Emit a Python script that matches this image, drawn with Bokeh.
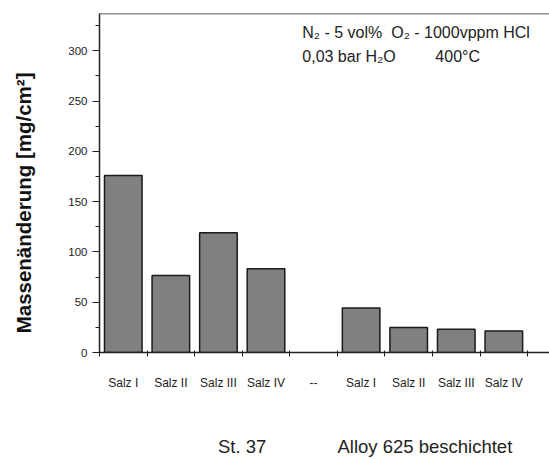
from bokeh.plotting import figure
from bokeh.models import Range1d, FixedTicker, LinearAxis, Span, Label
from bokeh.embed import file_html
from bokeh.resources import INLINE

# ---- data ----
categories = ["Salz I", "Salz II", "Salz III", "Salz IV", "--",
              "Salz I", "Salz II", "Salz III", "Salz IV", "--"]
values = [176, 76.5, 119, 83.3, None, 44.2, 24.8, 23.1, 21.4, None]
group_labels = ["St. 37", "Alloy 625 beschichtet"]
y_ticks = [0, 50, 100, 150, 200, 250, 300]
y_minor = [25, 75, 125, 175, 225, 275, 325]
y_title = "Massenänderung [mg/cm²]"

FONT = "Liberation Sans"
INK = "#222222"

idx = list(range(len(categories)))
bx = [i for i, v in zip(idx, values) if v is not None]
by = [v for v in values if v is not None]

p = figure(width=549, height=459, output_backend="svg", toolbar_location=None,
           x_range=Range1d(-0.5, 8.96), y_range=Range1d(0, 337),
           min_border_left=99, min_border_right=0, min_border_top=13,
           min_border_bottom=107, x_axis_type=None)
p.background_fill_color = "white"
p.border_fill_color = "white"
p.outline_line_color = None
p.grid.visible = False

p.vbar(x=bx, top=by, width=0.79, fill_color="#808080",
       line_color="#1a1a1a", line_width=1.5)

# y axis
ya = p.yaxis[0]
ya.ticker = FixedTicker(ticks=y_ticks, minor_ticks=y_minor)
ya.axis_line_width = 1.5
ya.axis_line_color = INK
ya.major_tick_line_color = INK
ya.minor_tick_line_color = INK
ya.major_tick_out = 7
ya.major_tick_in = 0
ya.minor_tick_out = 4
ya.minor_tick_in = 0
ya.major_label_text_font = FONT
ya.major_label_text_font_size = "11.5px"
ya.major_label_text_color = INK
ya.major_label_standoff = 5
# trailing no-break spaces shift the visible title downwards, as in the reference
ya.axis_label = y_title + "\u00a0" * 7
ya.axis_label_text_font = FONT
ya.axis_label_text_font_style = "bold"
ya.axis_label_text_font_size = "20.5px"
ya.axis_label_text_color = "#111111"
ya.axis_label_standoff = 30

# x axis: category labels at centres, ticks at boundaries
xa = LinearAxis(ticker=FixedTicker(ticks=idx, minor_ticks=[i - 0.5 for i in idx] + [len(idx) - 0.5]),
                major_label_overrides={i: c for i, c in zip(idx, categories)})
xa.axis_line_width = 1.5
xa.axis_line_color = INK
xa.major_tick_line_color = None
xa.major_tick_out = 0
xa.major_tick_in = 0
xa.minor_tick_line_color = INK
xa.minor_tick_out = 4
xa.minor_tick_in = 2
xa.major_label_text_font = FONT
xa.major_label_text_font_size = "12px"
xa.major_label_text_color = INK
xa.major_label_standoff = 19
p.add_layout(xa, "below")

# group axis
g_pos = [2.5, 6.34]
ga = LinearAxis(ticker=FixedTicker(ticks=g_pos, minor_ticks=[]),
                major_label_overrides={g_pos[0]: group_labels[0], g_pos[1]: group_labels[1]})
ga.axis_line_color = None
ga.major_tick_line_color = None
ga.minor_tick_line_color = None
ga.major_tick_out = 0
ga.major_tick_in = 0
ga.major_label_text_font = FONT
ga.major_label_text_font_size = "18.5px"
ga.major_label_text_color = INK
ga.major_label_standoff = 43
p.add_layout(ga, "below")

# top frame line
p.add_layout(Span(location=337, dimension="width", line_color=INK, line_width=1.5))

# annotation
p.add_layout(Label(x=3.763, y=317.8, text="N₂ - 5 vol%\u00a0\u00a0O₂ - 1000vppm\u00a0HCl",
                   text_font=FONT, text_font_size="16px", text_color=INK,
                   text_baseline="middle"))
p.add_layout(Label(x=3.763, y=294, text="0,03 bar H₂O",
                   text_font=FONT, text_font_size="16px", text_color=INK,
                   text_baseline="middle"))
p.add_layout(Label(x=6.56, y=294, text="400°C",
                   text_font=FONT, text_font_size="16px", text_color=INK,
                   text_baseline="middle"))

open("out.html", "w").write(file_html(p, INLINE))
